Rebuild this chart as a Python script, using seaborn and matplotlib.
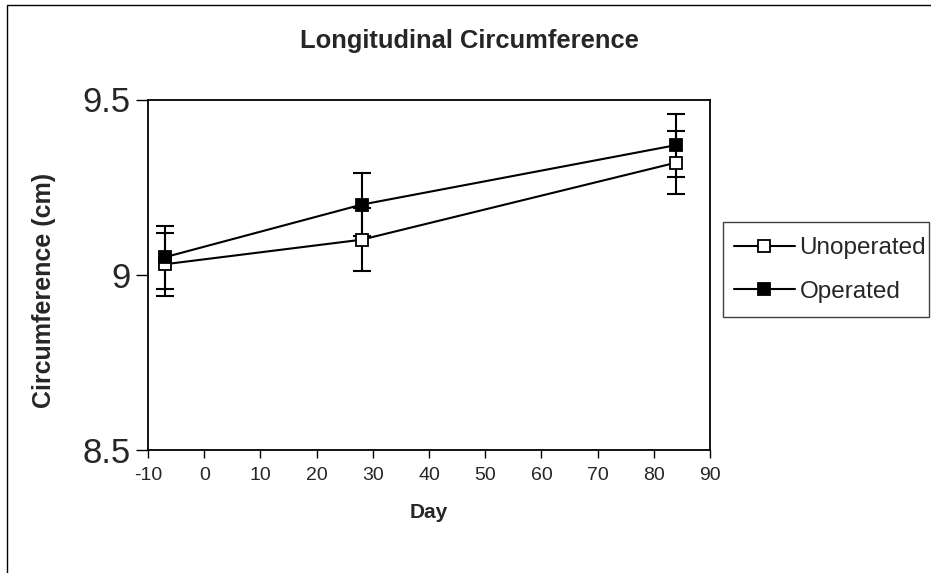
import matplotlib
matplotlib.use("Agg")
import matplotlib.pyplot as plt
import seaborn as sns
import pandas as pd
from matplotlib.patches import Rectangle

days = [-7, 28, 84]
unoperated = [9.03, 9.10, 9.32]
operated = [9.05, 9.20, 9.37]
unoperated_err = [0.09, 0.09, 0.09]
operated_err = [0.09, 0.09, 0.09]
series_names = ["Unoperated", "Operated"]
face_colors = ["white", "black"]
x_ticks = [-10, 0, 10, 20, 30, 40, 50, 60, 70, 80, 90]
y_ticks = [8.5, 9.0, 9.5]
y_tick_labels = ["8.5", "9", "9.5"]

sns.set_theme(style="white")
plt.rcParams['font.family'] = ['Liberation Sans', 'DejaVu Sans']

df = pd.DataFrame({
    "Day": days * 2,
    "Circ": unoperated + operated,
    "Group": [series_names[0]] * 3 + [series_names[1]] * 3,
})

fig = plt.figure(figsize=(9.31, 5.73), dpi=100)
ax = fig.add_axes([148/931, 1 - 450/573, (710-148)/931, (450-99.5)/573])

errs = {series_names[0]: (unoperated, unoperated_err), series_names[1]: (operated, operated_err)}
for name in series_names:
    vals, e = errs[name]
    ax.errorbar(days, vals, yerr=e, fmt='none', ecolor='black', elinewidth=1.5,
                capsize=6.5, capthick=1.5, zorder=2)

sns.lineplot(data=df, x="Day", y="Circ", hue="Group", style="Group",
             hue_order=series_names, style_order=series_names,
             palette=["black", "black"], markers=["s", "s"], dashes=False,
             linewidth=1.5, markersize=9, ax=ax, zorder=3)

marker_lines = [l for l in ax.get_lines() if l.get_marker() == 's']
for l, fc in zip(marker_lines, face_colors):
    l.set_markeredgecolor("black")
    l.set_markeredgewidth(1.3)
    l.set_markerfacecolor(fc)

ax.set_xlim(-10, 90)
ax.set_ylim(8.5, 9.5)
ax.set_xticks(x_ticks)
ax.set_xticklabels([str(t) for t in x_ticks], fontsize=14)
ax.set_yticks(y_ticks)
ax.set_yticklabels(y_tick_labels, fontsize=25)
ax.tick_params(axis='x', direction='out', length=6, width=1, color='black', pad=6, bottom=True)
ax.tick_params(axis='y', direction='out', length=8.5, width=1, color='black', pad=4, left=True)
for s in ax.spines.values():
    s.set_color('black')
    s.set_linewidth(1.3)

ax.set_xlabel("Day", fontsize=15, fontweight='bold', labelpad=14)
ax.set_ylabel("")
fig.text(469/931, 1 - 41/573, "Longitudinal Circumference", fontsize=18.4,
         fontweight='bold', ha='center', va='center')
fig.text(44/931, 1 - 290/573, "Circumference (cm)", fontsize=18,
         fontweight='bold', ha='center', va='center', rotation=90)

h, l = ax.get_legend_handles_labels()
for hh, fc in zip(h, face_colors):
    hh.set_markeredgecolor("black")
    hh.set_markeredgewidth(1.3)
    hh.set_markerfacecolor(fc)
leg = ax.legend(h, l, loc='center left', bbox_to_anchor=(723/931, 1 - 270/573),
                bbox_transform=fig.transFigure, fontsize=17.5, frameon=False,
                handlelength=2.5, handletextpad=0.2, borderpad=0.45,
                labelspacing=0.9, borderaxespad=0, handleheight=0.7)

# legend frame (tight, Excel-like)
fig.patches.append(Rectangle((723/931, 1 - 317/573), (929-723)/931, (317-222)/573,
                             transform=fig.transFigure, fill=False,
                             edgecolor='#404040', linewidth=1.0, zorder=5))

fig.patches.append(Rectangle((7/931, -0.1), 1.2, (573-5)/573 + 0.1,
                             transform=fig.transFigure, fill=False,
                             edgecolor='black', linewidth=1.0))

fig.savefig("out.png", dpi=100)
